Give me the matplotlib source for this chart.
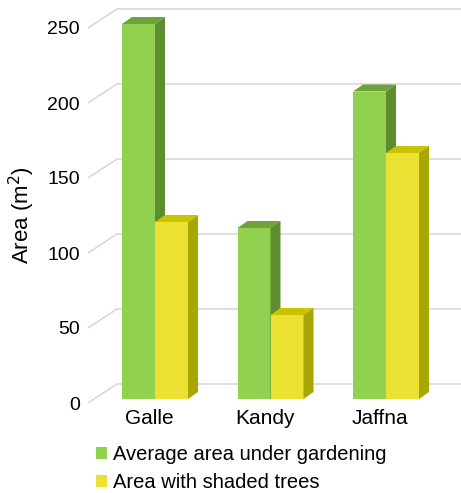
import matplotlib
matplotlib.use("Agg")
import matplotlib.pyplot as plt
from matplotlib.patches import Polygon, Patch

plt.rcParams["font.family"] = ["Liberation Sans", "DejaVu Sans"]

# Data
categories = ["Galle", "Kandy", "Jaffna"]
gardening = [250, 114, 205]
shaded = [118, 56, 164]
series_labels = ["Average area under gardening", "Area with shaded trees"]
yticks = [0, 50, 100, 150, 200, 250]

# Face colours (front, top, side)
green = ("#92d050", "#6fa23a", "#5e8d2f")
yellow = ("#ebe133", "#cbc200", "#aaa600")
grid_color = "#d9d9d9"

W, H = 461, 493
fig = plt.figure(figsize=(W / 100, H / 100), dpi=100)

# axes covers the front plane of the 3D box
px_left, px_right = 88, 461
px_bottom, px_top = 90, 465
ax = fig.add_axes([px_left / W, px_bottom / H, (px_right - px_left) / W, (px_top - px_bottom) / H])

x0_px, step_px = 149, 115.5          # category centre on the front plane, spacing
xmin = (px_left - x0_px) / step_px
xmax = (px_right - x0_px) / step_px
ax.set_xlim(xmin, xmax)
ax.set_ylim(0, 250)

ux = 1 / step_px                      # data units per pixel (x)
uy = 250 / (px_top - px_bottom)       # data units per pixel (y)

# full depth of the box (back wall offset)
depth_dx, depth_dy = 29 * ux, 19 * uy
# bar placement inside the depth
front_dx, front_dy = 6 * ux, 4 * uy
bar_dx, bar_dy = 10 * ux, 7 * uy
bar_w = 33 * ux

# back wall gridlines with diagonal connectors to the front axis
for v in yticks:
    ax.plot([xmin, xmin + depth_dx], [v, v + depth_dy], color=grid_color, lw=1.2,
            clip_on=False, zorder=1, solid_capstyle="butt")
    ax.plot([xmin + depth_dx, xmax + 0.1], [v + depth_dy, v + depth_dy], color=grid_color,
            lw=1.2, clip_on=False, zorder=1)


def draw_bar(xc_left, value, cols, z):
    x1, x2 = xc_left + front_dx, xc_left + front_dx + bar_w
    y1, y2 = front_dy, front_dy + value
    ax.bar(x1, value, width=bar_w, bottom=y1, align="edge", color=cols[0],
           linewidth=0, zorder=z, clip_on=False)
    top = Polygon([(x1, y2), (x2, y2), (x2 + bar_dx, y2 + bar_dy), (x1 + bar_dx, y2 + bar_dy)],
                  closed=True, facecolor=cols[1], edgecolor="none", zorder=z, clip_on=False)
    side = Polygon([(x2, y1), (x2 + bar_dx, y1 + bar_dy), (x2 + bar_dx, y2 + bar_dy), (x2, y2)],
                   closed=True, facecolor=cols[2], edgecolor="none", zorder=z, clip_on=False)
    ax.add_patch(top)
    ax.add_patch(side)


for i, (g, s) in enumerate(zip(gardening, shaded)):
    draw_bar(i - bar_w, g, green, 3)
    draw_bar(i, s, yellow, 4)

for sp in ax.spines.values():
    sp.set_visible(False)
ax.set_yticks(yticks)
ax.set_yticklabels([str(t) for t in yticks], fontsize=14)
ax.set_xticks(range(len(categories)))
ax.set_xticklabels(categories, fontsize=15)
ax.tick_params(axis="y", length=0, pad=6)
ax.tick_params(axis="x", length=0, pad=4)
ax.set_ylabel("Area (m$^2$)", fontsize=16, labelpad=7)
ax.patch.set_visible(False)

handles = [Patch(facecolor=green[0], edgecolor="none"), Patch(facecolor=yellow[0], edgecolor="none")]
fig.legend(handles, series_labels, loc="upper left", bbox_to_anchor=(96 / W, 1 - 445 / H),
           frameon=False, fontsize=14.5, handlelength=0.55, handleheight=0.55,
           handletextpad=0.3, labelspacing=0.45, borderpad=0, borderaxespad=0)

fig.savefig("out.png", dpi=100)
